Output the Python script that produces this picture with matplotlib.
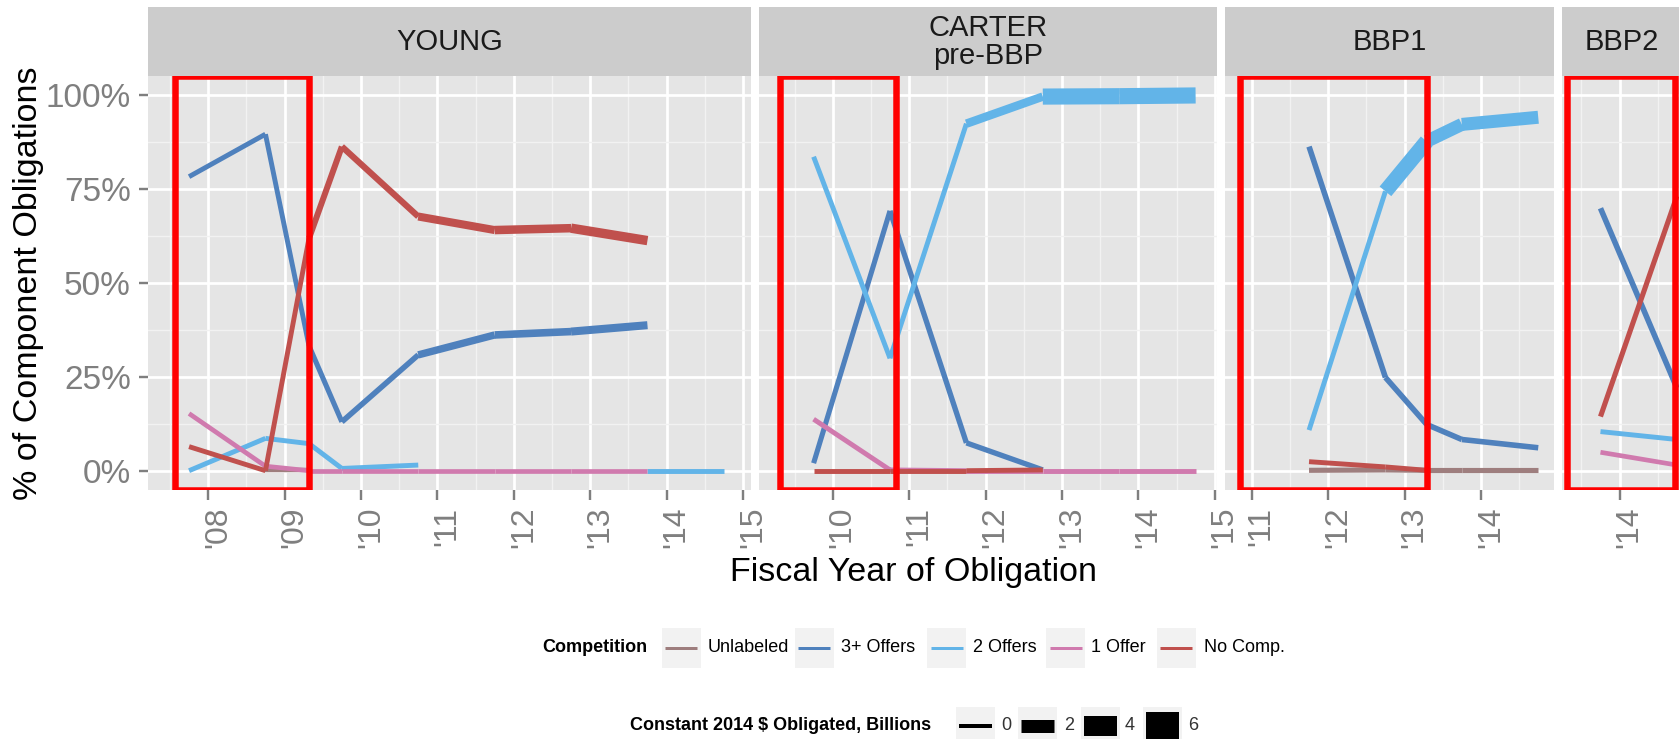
import numpy as np
import matplotlib
matplotlib.use("Agg")
import matplotlib.pyplot as plt
from matplotlib.patches import Rectangle
from matplotlib.transforms import ScaledTranslation

plt.rcParams['font.family'] = ['Liberation Sans', 'DejaVu Sans']

W, H, DPI = 1679, 739, 100
nan = np.nan

series = ['Unlabeled', '3+ Offers', '2 Offers', '1 Offer', 'No Comp.']
colors = ['#9E7E7E', '#4F81BD', '#62B4E8', '#D07AAE', '#C0504D']

# ---- YOUNG ----
young_x = [2007.75, 2008.75, 2009.32, 2009.75, 2010.75, 2011.75, 2012.75, 2013.75, 2014.75]
young_unlabeled = [nan, 0.2, 0.2, nan, nan, nan, nan, nan, nan]
young_3plus = [78.2, 89.5, 33.2, 13.0, 30.8, 36.1, 37.0, 38.7, nan]
young_2offers = [0.0, 8.6, 7.2, 0.6, 1.5, nan, nan, 0.0, 0.0]
young_1offer = [15.2, 1.2, 0.0, 0.0, 0.0, 0.0, 0.0, 0.0, nan]
young_nocomp = [6.4, 0.0, 61.8, 86.2, 67.6, 64.0, 64.5, 61.2, nan]
# obligated, billions
young_amt_unlabeled = [0.1, 0.1, 0.1, 0.1, 0.1, 0.1, 0.1, 0.1, 0.1]
young_amt_3plus = [0.2, 0.2, 0.25, 0.35, 0.75, 0.8, 0.9, 0.9, 0.9]
young_amt_2offers = [0.2, 0.2, 0.2, 0.2, 0.2, 0.2, 0.2, 0.2, 0.2]
young_amt_1offer = [0.15, 0.15, 0.15, 0.15, 0.15, 0.15, 0.15, 0.15, 0.15]
young_amt_nocomp = [0.2, 0.2, 0.45, 0.5, 0.9, 1.0, 1.2, 1.2, 1.2]

# ---- CARTER pre-BBP ----
carter_x = [2009.75, 2010.75, 2011.75, 2012.75, 2013.75, 2014.75]
carter_unlabeled = [nan, nan, nan, nan, nan, nan]
carter_3plus = [2.0, 69.1, 7.4, 0.2, nan, nan]
carter_2offers = [83.5, 29.9, 92.3, 99.5, 99.6, 99.8]
carter_1offer = [13.7, 0.2, 0.0, 0.0, 0.0, 0.0]
carter_nocomp = [0.0, 0.0, 0.0, 0.2, nan, nan]
carter_amt_unlabeled = [0.1] * 6
carter_amt_3plus = [0.25, 0.3, 0.3, 0.3, 0.3, 0.3]
carter_amt_2offers = [0.2, 0.2, 1.0, 2.9, 2.9, 2.9]
carter_amt_1offer = [0.2] * 6
carter_amt_nocomp = [0.2] * 6

# ---- BBP1 ----
bbp1_x = [2011.75, 2012.75, 2013.29, 2013.75, 2014.75]
bbp1_unlabeled = [0.1, 0.2, 0.1, 0.1, 0.1]
bbp1_3plus = [86.2, 24.8, 12.3, 8.3, 6.1]
bbp1_2offers = [10.8, 74.3, 87.6, 92.1, 94.0]
bbp1_1offer = [nan, nan, nan, nan, nan]
bbp1_nocomp = [2.4, 1.0, 0.1, nan, nan]
bbp1_amt_unlabeled = [0.25] * 5
bbp1_amt_3plus = [0.35] * 5
bbp1_amt_2offers = [0.2, 2.6, 2.0, 2.0, 2.0]
bbp1_amt_1offer = [0.2] * 5
bbp1_amt_nocomp = [0.2] * 5

# ---- BBP2 ----
bbp2_x = [2013.75, 2014.75]
bbp2_unlabeled = [nan, nan]
bbp2_3plus = [69.8, 22.0]
bbp2_2offers = [10.4, 8.3]
bbp2_1offer = [4.9, 1.5]
bbp2_nocomp = [14.4, 73.0]
bbp2_amt_unlabeled = [0.2, 0.2]
bbp2_amt_3plus = [0.35, 0.35]
bbp2_amt_2offers = [0.2, 0.2]
bbp2_amt_1offer = [0.15, 0.15]
bbp2_amt_nocomp = [0.25, 0.25]

panel_names = ['YOUNG', 'CARTER\npre-BBP', 'BBP1', 'BBP2']
panel_xlim = [(2007.21, 2015.11), (2009.04, 2015.03), (2010.65, 2014.95), (2013.24, 2014.82)]
box_start = [2007.57, 2009.315, 2010.85, 2013.31]
box_end = [2009.32, 2010.825, 2013.29, 2014.72]

panel_data = [
    (young_x, [young_unlabeled, young_3plus, young_2offers, young_1offer, young_nocomp],
     [young_amt_unlabeled, young_amt_3plus, young_amt_2offers, young_amt_1offer, young_amt_nocomp]),
    (carter_x, [carter_unlabeled, carter_3plus, carter_2offers, carter_1offer, carter_nocomp],
     [carter_amt_unlabeled, carter_amt_3plus, carter_amt_2offers, carter_amt_1offer, carter_amt_nocomp]),
    (bbp1_x, [bbp1_unlabeled, bbp1_3plus, bbp1_2offers, bbp1_1offer, bbp1_nocomp],
     [bbp1_amt_unlabeled, bbp1_amt_3plus, bbp1_amt_2offers, bbp1_amt_1offer, bbp1_amt_nocomp]),
    (bbp2_x, [bbp2_unlabeled, bbp2_3plus, bbp2_2offers, bbp2_1offer, bbp2_nocomp],
     [bbp2_amt_unlabeled, bbp2_amt_3plus, bbp2_amt_2offers, bbp2_amt_1offer, bbp2_amt_nocomp]),
]

size_breaks = [0, 2, 4, 6]
size_px = [4, 13, 20, 28]


def pt(px):
    return px * 72.0 / DPI


def width_pt(v):
    return pt(np.interp(v, size_breaks, size_px))


fig = plt.figure(figsize=(W / DPI, H / DPI), dpi=DPI)

px_per_year = 76.4
left = 147.8
gap = 8
panel_top, panel_bot = 75.9, 489.5
strip_top = 7.3
grey50 = '#7F7F7F'

for p in range(4):
    x0, x1 = panel_xlim[p]
    width = (x1 - x0) * px_per_year
    ax = fig.add_axes([left / W, 1 - panel_bot / H, width / W, (panel_bot - panel_top) / H])
    sax = fig.add_axes([left / W, 1 - panel_top / H, width / W, (panel_top - strip_top) / H])
    left += width + gap

    # strip
    sax.set_facecolor('#CCCCCC')
    sax.set_xticks([])
    sax.set_yticks([])
    for s in sax.spines.values():
        s.set_visible(False)
    sax.text(0.5, 0.5, panel_names[p], ha='center', va='center', fontsize=21,
             color='#1A1A1A', linespacing=1.0, transform=sax.transAxes)

    # panel
    ax.set_facecolor('#E5E5E5')
    for s in ax.spines.values():
        s.set_visible(False)
    ax.set_xlim(x0, x1)
    ax.set_ylim(-5, 105)
    years = [y for y in range(2007, 2017) if x0 <= y <= x1]
    minors = [y + 0.5 for y in range(2006, 2017) if x0 <= y + 0.5 <= x1]
    ax.set_xticks(years)
    ax.set_xticklabels(["'%02d" % (y % 100) for y in years])
    ax.set_xticks(minors, minor=True)
    ax.set_yticks([0, 25, 50, 75, 100])
    ax.set_yticklabels(['0%', '25%', '50%', '75%', '100%'])
    ax.set_yticks([12.5, 37.5, 62.5, 87.5], minor=True)
    ax.set_axisbelow(True)
    ax.grid(which='major', color='white', linewidth=pt(2.7))
    ax.grid(which='minor', color='#F2F2F2', linewidth=pt(1.4))
    ax.tick_params(which='minor', length=0)
    ax.tick_params(axis='x', which='major', length=pt(10), width=pt(2.4), color=grey50,
                   labelcolor=grey50, labelsize=23, pad=pt(7))
    if p == 0:
        ax.tick_params(axis='y', which='major', length=pt(9), width=pt(2.4), color=grey50,
                       labelcolor=grey50, labelsize=24, pad=pt(8))
    else:
        ax.tick_params(axis='y', which='major', length=0, labelleft=False)
    for lab in ax.get_xticklabels():
        lab.set_rotation(90)
        lab.set_ha('left')
        lab.set_va('top')
        lab.set_transform(lab.get_transform() + ScaledTranslation(-5 / DPI, 0, fig.dpi_scale_trans))

    xs, ys_list, amts_list = panel_data[p]
    for i in range(len(series)):
        ys = ys_list[i]
        amts = amts_list[i]
        for k in range(len(xs) - 1):
            if np.isfinite(ys[k]) and np.isfinite(ys[k + 1]):
                ax.plot([xs[k], xs[k + 1]], [ys[k], ys[k + 1]], color=colors[i],
                        linewidth=width_pt(amts[k]), solid_capstyle='butt', zorder=3 + i * 0.1)

    ax.add_patch(Rectangle((box_start[p], -5), box_end[p] - box_start[p], 110,
                           fill=False, edgecolor='#FF0000', linewidth=pt(6.5), zorder=5))

fig.text(29 / W, 1 - 283 / H, '% of Component Obligations', rotation=90,
         ha='center', va='center', fontsize=24.5)
fig.text(913 / W, 1 - 573 / H, 'Fiscal Year of Obligation', ha='center', va='center',
         fontsize=24.5)

# legends drawn in pixel space
ov = fig.add_axes([0, 0, 1, 1])
ov.set_xlim(0, W)
ov.set_ylim(H, 0)
ov.axis('off')

row1 = 648
ov.text(542.3, row1, 'Competition', fontsize=13, fontweight='bold', ha='left', va='center')
key_lefts = [661.7, 794.8, 927, 1046.4, 1156.6]
label_lefts = [707.6, 840.7, 973, 1091, 1203.5]
for i in range(len(series)):
    kl = key_lefts[i]
    ov.add_patch(Rectangle((kl, row1 - 20), 39, 40, facecolor='#F2F2F2', edgecolor='none'))
    ov.plot([kl + 3.5, kl + 35.5], [row1, row1], color=colors[i], linewidth=pt(3),
            solid_capstyle='butt')
    ov.text(label_lefts[i], row1, series[i], fontsize=13, ha='left', va='center')

row2 = 725.5
ov.text(629.5, row2, r'Constant 2014 \$ Obligated, Billions', fontsize=13,
        fontweight='bold', ha='left', va='center')
size_key_lefts = [956, 1018, 1080.7, 1142.7]
size_label_lefts = [1001.7, 1064, 1125, 1188]
for j in range(len(size_breaks)):
    kl = size_key_lefts[j]
    ov.add_patch(Rectangle((kl, row2 - 19), 39, 40, facecolor='#F2F2F2', edgecolor='none'))
    ov.plot([kl + 3, kl + 36], [row2, row2], color='black',
            linewidth=width_pt(size_breaks[j]), solid_capstyle='butt')
    ov.text(size_label_lefts[j], row2, str(size_breaks[j]), fontsize=13, ha='left',
            va='center', color='#333333')

fig.savefig('out.png', dpi=DPI)
